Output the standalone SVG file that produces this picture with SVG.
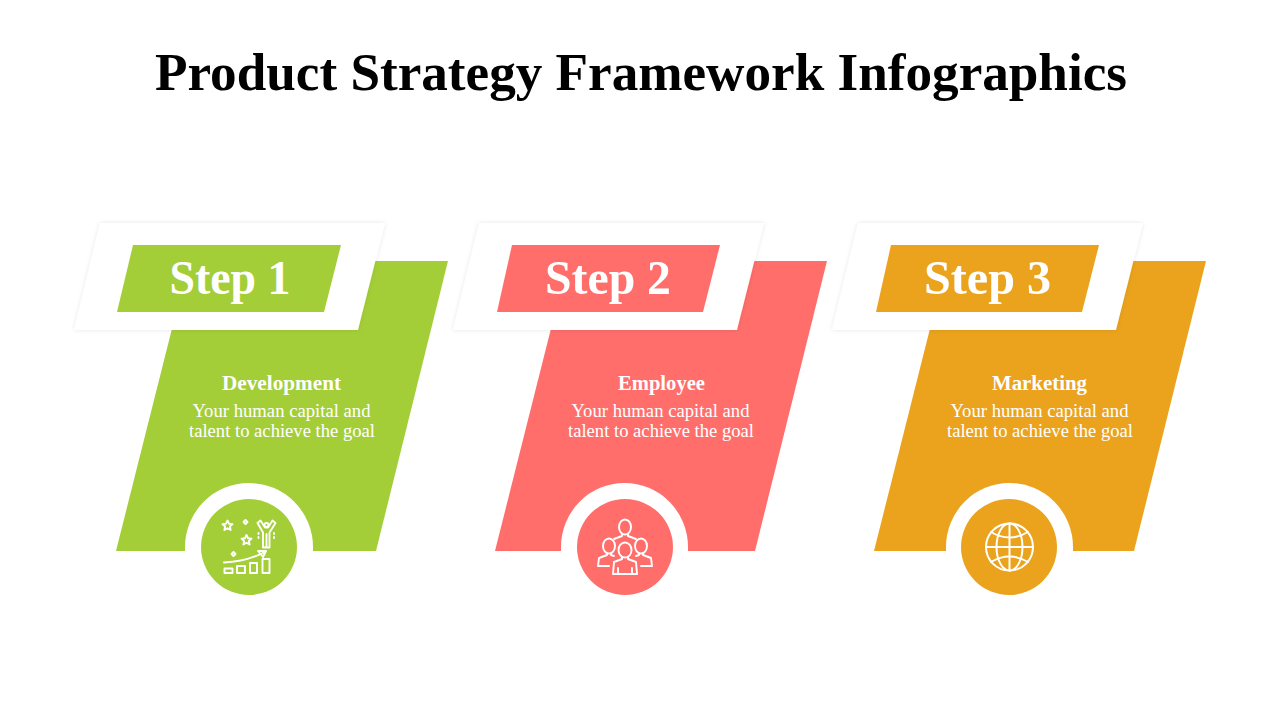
<svg xmlns="http://www.w3.org/2000/svg" width="1280" height="720" viewBox="0 0 1280 720">
<defs>
<filter id="sh" x="-10%" y="-10%" width="120%" height="120%"><feDropShadow dx="0" dy="0" stdDeviation="2" flood-color="#000" flood-opacity="0.10"/></filter>
<g id="bar"><path d="M189 261H448L376 551H116Z"/></g>
</defs>
<style>
text{font-family:"Liberation Serif","DejaVu Serif",serif;text-anchor:middle}
.title{font-size:52px;font-weight:700;fill:#000}
.step{font-size:49px;font-weight:700;fill:#fff}
.head{font-size:20.5px;font-weight:700;fill:#fff}
.body{font-size:18.500px;fill:#fff}
.ln{fill:none;stroke:#fff;stroke-width:1.900;stroke-linejoin:round;stroke-linecap:round}
.g{fill:#a4ce38}.r{fill:#ff6e6a}.o{fill:#eba31d}
</style>
<rect width="1280" height="720" fill="#fff"/>
<text class="title" x="641" y="90" textLength="972" lengthAdjust="spacingAndGlyphs">Product Strategy Framework Infographics</text>

<g id="step-1">
<use href="#bar" class="g"/>
<path d="M100 223H385L358 330H74Z" fill="#fff" filter="url(#sh)"/>
<path d="M133 245H341L324 312H117Z" class="g"/>
<text class="step" x="230" y="294" textLength="121" lengthAdjust="spacingAndGlyphs">Step 1</text>
<text class="head" x="281.500" y="390" textLength="119" lengthAdjust="spacingAndGlyphs">Development</text>
<text class="body" x="281.500" y="417" textLength="178" lengthAdjust="spacingAndGlyphs">Your human capital and</text>
<text class="body" x="282" y="437" textLength="186" lengthAdjust="spacingAndGlyphs">talent to achieve the goal</text>
<path d="M185 547A64 64 0 0 1 313 547V551H185Z" fill="#fff"/>
<circle cx="249" cy="547" r="48" class="g"/>
<g class="ln">
<path d="M227.500 520.500l1.500 3.200 3.500.4-2.600 2.400.7 3.500-3.100-1.800-3.100 1.800.7-3.500-2.600-2.400 3.500-.4Z"/>
<path d="M246.500 535l1.500 3.200 3.500.4-2.600 2.400.7 3.500-3.100-1.800-3.100 1.800.7-3.500-2.600-2.400 3.500-.4Z"/>
<path d="M245.500 520l2 2-2 2-2-2Z"/><path d="M233.500 552l2 2-2 2-2-2Z"/>
<path d="M257.500 523l3-2.500 4.500 7h3l4.500-7 3 2.500-6 9.500v15h-6.500v-15Z"/><circle cx="266.500" cy="525" r="2"/>
<path d="M266.500 534v13"/><path d="M258.500 533v1M258.500 537v1M274 533v1M274 537v1"/>
<path d="M224 562.500q22-1 40-10"/><path d="M258 551h8l-3 6Z"/>
<rect x="224.500" y="568.500" width="8" height="4.500"/><rect x="237" y="566" width="8" height="7"/><rect x="250" y="563" width="7" height="10"/><rect x="262.500" y="559" width="7" height="14"/>
</g>
</g>

<g id="step-2">
<use href="#bar" class="r" x="379"/>
<path d="M479 223H764L737 330H453Z" fill="#fff" filter="url(#sh)"/>
<path d="M512 245H720L703 312H497Z" class="r"/>
<text class="step" x="608" y="294" textLength="126" lengthAdjust="spacingAndGlyphs">Step 2</text>
<text class="head" x="661.500" y="390" textLength="87" lengthAdjust="spacingAndGlyphs">Employee</text>
<text class="body" x="660.500" y="417" textLength="178" lengthAdjust="spacingAndGlyphs">Your human capital and</text>
<text class="body" x="661" y="437" textLength="186" lengthAdjust="spacingAndGlyphs">talent to achieve the goal</text>
<path d="M561 547A63.500 64 0 0 1 688 547V551H561Z" fill="#fff"/>
<circle cx="625" cy="547" r="48" class="r"/>
<g class="ln">
<ellipse cx="625" cy="527" rx="6" ry="7.500"/><ellipse cx="609" cy="546" rx="6" ry="7.500"/><ellipse cx="641" cy="546" rx="6" ry="7.500"/><ellipse cx="625" cy="550" rx="6.500" ry="7.500"/>
<path d="M622 534v2l-8 3M628 534v2l8 3"/>
<path d="M607 553v2l-8 3-1 8h11M611 553v2l3 1M643 553v2l8 3 1 8h-11M639 553v2l-3 1"/>
<path d="M622 557v2l-8 3-1 12h24l-1-12-8-3v-2"/><path d="M618 568v6M632 568v6"/>
</g>
</g>

<g id="step-3">
<use href="#bar" class="o" x="758"/>
<path d="M858 223H1143L1116 330H832Z" fill="#fff" filter="url(#sh)"/>
<path d="M891 245H1099L1082 312H876Z" class="o"/>
<text class="step" x="987.500" y="294" textLength="127" lengthAdjust="spacingAndGlyphs">Step 3</text>
<text class="head" x="1039.500" y="390" textLength="95" lengthAdjust="spacingAndGlyphs">Marketing</text>
<text class="body" x="1039.500" y="417" textLength="178" lengthAdjust="spacingAndGlyphs">Your human capital and</text>
<text class="body" x="1040" y="437" textLength="186" lengthAdjust="spacingAndGlyphs">talent to achieve the goal</text>
<path d="M946 547A63.500 64 0 0 1 1073 547V551H946Z" fill="#fff"/>
<circle cx="1009" cy="547" r="48" class="o"/>
<g class="ln" style="stroke-width:2">
<circle cx="1009.500" cy="547" r="23.500"/>
<ellipse cx="1009.500" cy="547" rx="13" ry="23.500"/>
<path d="M1009.500 523.500v47M986 547h47"/>
<path d="M991 532q18.500 11 37 0M991 562q18.500-11 37 0"/>
</g>
</g>
</svg>
